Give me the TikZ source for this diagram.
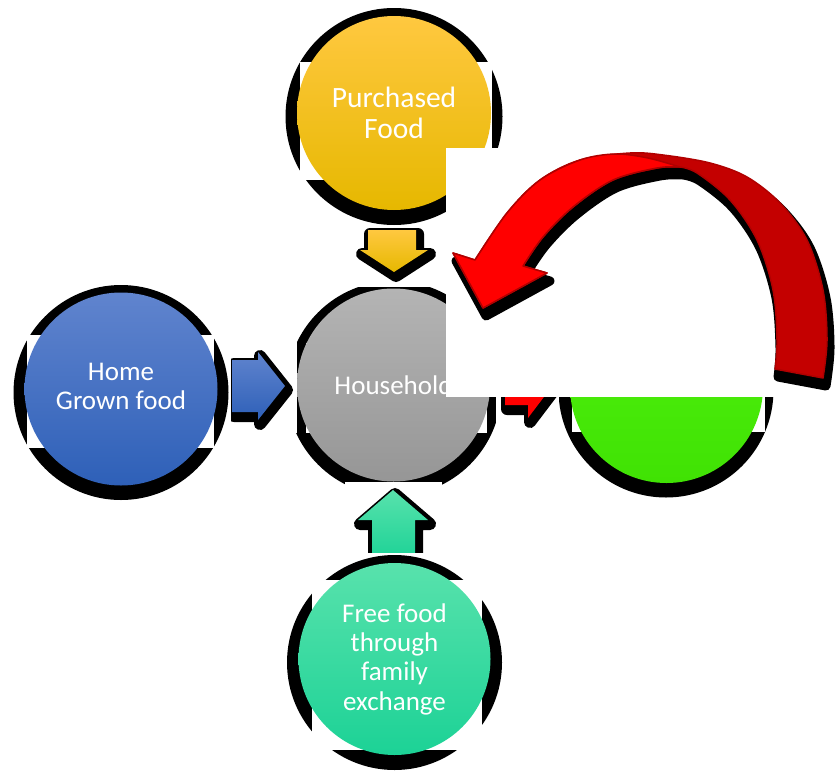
\documentclass[tikz,border=0pt]{standalone}
\usepackage{fontspec}
\setmainfont{Carlito}
\definecolor{yelT}{RGB}{255,200,64}
\definecolor{yelM}{RGB}{255,192,0}
\definecolor{yelB}{RGB}{230,184,0}
\definecolor{bluT}{RGB}{96,132,206}
\definecolor{bluM}{RGB}{68,114,196}
\definecolor{bluB}{RGB}{46,96,184}
\definecolor{gryT}{RGB}{180,180,180}
\definecolor{gryM}{RGB}{166,166,166}
\definecolor{gryB}{RGB}{150,150,150}
\definecolor{grnT}{RGB}{80,242,14}
\definecolor{grnB}{RGB}{64,226,4}
\definecolor{tealT}{RGB}{88,226,172}
\definecolor{tealM}{RGB}{40,224,165}
\definecolor{tealB}{RGB}{28,210,150}
\definecolor{redB}{RGB}{255,0,0}
\definecolor{redD}{RGB}{196,0,0}
\definecolor{redE}{RGB}{176,0,0}
\begin{document}
\begin{tikzpicture}[x=1pt,y=-1pt,
  disc/.style={circle, minimum size=#1, inner sep=0pt, text=white, align=center},
  ashadow/.style={fill=black, draw=black, line width=12pt, line join=round},
  ringshadow/.style={fill=black},
  cutout/.style={fill=white},
]
\useasboundingbox (0,0) rectangle (837,771);

% ---- circles: shadow ring, cut-out, disc ----
\fill[ringshadow] (394,116.5) circle (108.5pt);
\fill[cutout] (300,62) rectangle (492,180);
\node[disc=194pt, top color=yelT, middle color=yelM, bottom color=yelB,
      font=\fontsize{29.5}{31}\selectfont] (pf) at (394,113) {Purchased\\Food};

\fill[ringshadow] (121,392.5) circle (107.5pt);
\fill[cutout] (27,335) rectangle (214,448);
\node[disc=193pt, top color=bluT, middle color=bluM, bottom color=bluB,
      label={[text=white, align=center, font=\fontsize{27}{29}\selectfont, yshift=3pt]center:Home\\Grown food}] (hg) at (121,389) {};

\fill[ringshadow] (394,388.5) circle (107.5pt);
\fill[cutout] (306,343) rectangle (487,433);
\node[disc=193pt, top color=gryT, middle color=gryM, bottom color=gryB,
      font=\fontsize{27}{29}\selectfont] (hh) at (393.5,385) {Household};

\fill[ringshadow] (666,390) circle (107.5pt);
\fill[cutout] (572,340) rectangle (765,432);
\node[disc=193pt, top color=grnT, bottom color=grnB] (gr) at (666.5,386.5) {};

\fill[ringshadow] (394.5,662.5) circle (107.5pt);
\fill[cutout] (312,580) rectangle (482,750);
\node[disc=192pt, top color=tealT, middle color=tealM, bottom color=tealB,
      font=\fontsize{27}{29.3}\selectfont] (ff) at (394.5,659) {Free food\\through\\family\\exchange};

% ---- small block arrows ----
% purchased -> household (down)
\begin{scope}
  \fill[cutout] (345,226) rectangle (442,287);
  \clip (345,226) rectangle (442,287);
  \draw[ashadow, shift={(2,4)}] (368,230) -- (416,230) -- (416,250) -- (428,250) -- (394,272) -- (360,250) -- (368,250) -- cycle;
  \shade[top color=yelT, bottom color=yelB] (368,230) -- (416,230) -- (416,250) -- (428,250) -- (394,272) -- (360,250) -- (368,250) -- cycle;
\end{scope}
% home grown -> household (right)
\begin{scope}
  \fill[cutout] (231,342) rectangle (297,433);
  \clip (231,342) rectangle (297,433);
  \draw[ashadow, shift={(2,4)}] (232,360) -- (258,360) -- (258,352) -- (285,386) -- (258,420) -- (258,412) -- (232,412) -- cycle;
  \shade[top color=bluT, bottom color=bluB] (232,360) -- (258,360) -- (258,352) -- (285,386) -- (258,420) -- (258,412) -- (232,412) -- cycle;
\end{scope}
% free food -> household (up)
\begin{scope}
  \fill[cutout] (345,482) rectangle (442,552);
  \clip (345,482) rectangle (442,552);
  \draw[ashadow, shift={(2,4)}] (393,490) -- (428,520) -- (415,520) -- (415,560) -- (372,560) -- (372,520) -- (358,520) -- cycle;
  \shade[top color=tealT, bottom color=tealB] (393,490) -- (428,520) -- (415,520) -- (415,560) -- (372,560) -- (372,520) -- (358,520) -- cycle;
\end{scope}
% household -> green (right, red)
\begin{scope}
  \fill[cutout] (496,342) rectangle (559,433);
  \clip (496,342) rectangle (559,433);
  \draw[ashadow, shift={(2,4)}] (505,364) -- (528,364) -- (528,352) -- (553,385) -- (528,418) -- (528,405) -- (505,405) -- cycle;
  \fill[redB] (505,364) -- (528,364) -- (528,352) -- (553,385) -- (528,418) -- (528,405) -- (505,405) -- cycle;
\end{scope}

% ---- white panel ----
\fill[cutout] (446,148) rectangle (790,397);

% ---- big curved red arrow ----
\def\bigarrowpath{plot[smooth, tension=0.55] coordinates {(823,378) (827,340) (823,290) (807,240) (780,203) (747,177) (710,163) (663,155) (630,153) (580,160) (540,180) (507,213) (475,260)}
  -- (453,253) -- (483,308) -- (547,273) -- (523,266)
  -- plot[smooth, tension=0.55] coordinates {(523,266) (543,237) (573,207) (613,180) (657,168) (680,167)}
  -- plot[smooth, tension=0.55] coordinates {(680,167) (697,173) (730,200) (757,240) (773,290) (777,340) (775,369)}
  -- cycle}
\draw[fill=black, draw=black, line width=9pt, line join=round, shift={(3,8)}] \bigarrowpath;
\draw[fill=redD, draw=redE, line width=1.5pt, line join=round] \bigarrowpath;
\draw[fill=redB, draw=redE, line width=1.5pt, line join=round]
  plot[smooth, tension=0.55] coordinates {(680,167) (648,158) (615,154) (580,160) (540,180) (507,213) (475,260)}
  -- (453,253) -- (483,308) -- (547,273) -- (523,266)
  -- plot[smooth, tension=0.55] coordinates {(523,266) (543,237) (573,207) (613,180) (657,168) (680,167)}
  -- cycle;
\end{tikzpicture}
\end{document}
